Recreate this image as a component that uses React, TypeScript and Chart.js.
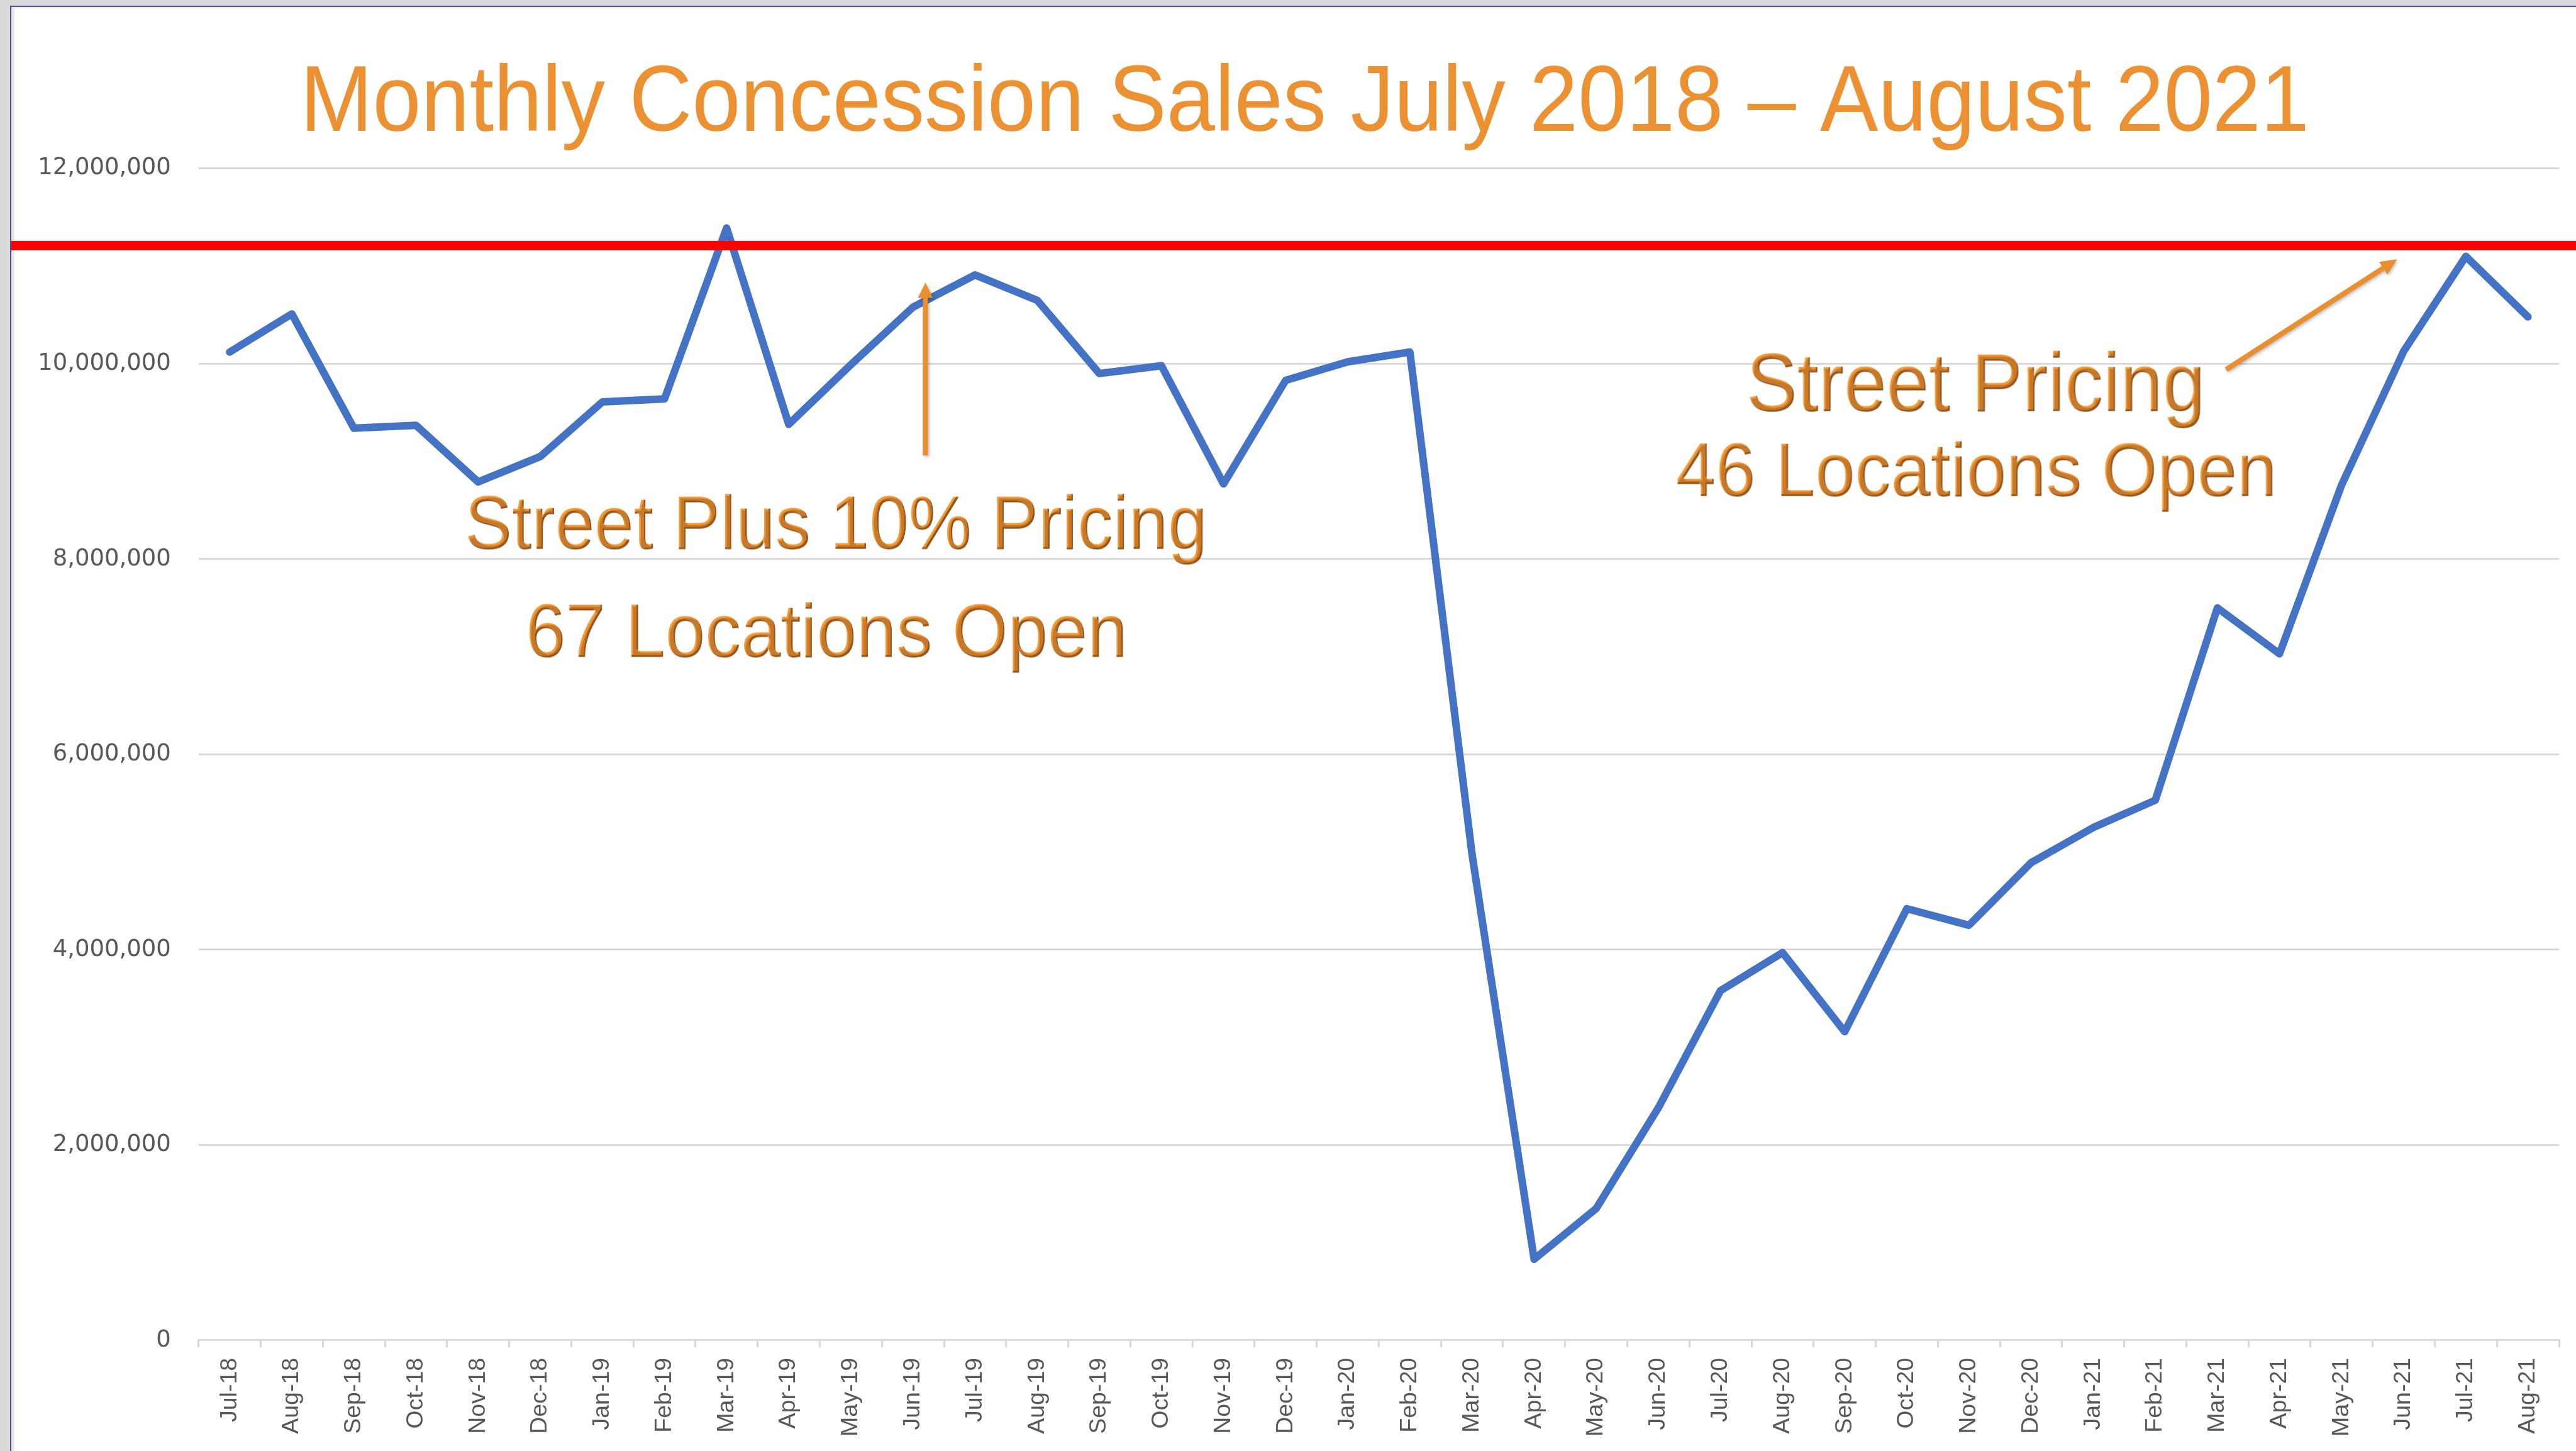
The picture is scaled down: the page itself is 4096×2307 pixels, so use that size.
import React, { useEffect, useRef } from "react";
import { Chart, registerables } from "chart.js";

Chart.register(...registerables);

const S = 4096 / 4098;
const W = 4096;
const H = 2307;

// ---- data ----
const months = [
  "Jul-18", "Aug-18", "Sep-18", "Oct-18", "Nov-18", "Dec-18",
  "Jan-19", "Feb-19", "Mar-19", "Apr-19", "May-19", "Jun-19",
  "Jul-19", "Aug-19", "Sep-19", "Oct-19", "Nov-19", "Dec-19",
  "Jan-20", "Feb-20", "Mar-20", "Apr-20", "May-20", "Jun-20",
  "Jul-20", "Aug-20", "Sep-20", "Oct-20", "Nov-20", "Dec-20",
  "Jan-21", "Feb-21", "Mar-21", "Apr-21", "May-21", "Jun-21",
  "Jul-21", "Aug-21",
];

const sales = [
  10120000, 10510000, 9340000, 9370000, 8790000, 9050000,
  9610000, 9640000, 11390000, 9380000, 9990000, 10580000,
  10910000, 10650000, 9900000, 9980000, 8770000, 9830000,
  10020000, 10120000, 4980000, 830000, 1350000, 2380000,
  3580000, 3970000, 3160000, 4420000, 4250000, 4890000,
  5250000, 5530000, 7500000, 7030000, 8760000, 10130000,
  11100000, 10480000,
];

const yMin = 0;
const yMax = 12000000;
const yStep = 2000000;
const referenceLevel = 11210000;

const titleText = "Monthly Concession Sales July 2018 \u2013 August 2021";
const leftNote = ["Street Plus 10% Pricing", "67 Locations Open"];
const rightNote = ["Street Pricing", "46 Locations Open"];

const FONT = '"Liberation Sans", Arial, Helvetica, sans-serif';

function plainText(
  ctx: CanvasRenderingContext2D,
  text: string,
  cx: number,
  baseline: number,
  size: number,
  width: number,
  color: string
) {
  ctx.save();
  ctx.font = `${size}px ${FONT}`;
  const m = ctx.measureText(text).width;
  const k = width / m;
  ctx.translate(cx, baseline);
  ctx.scale(k, 1);
  ctx.textAlign = "center";
  ctx.textBaseline = "alphabetic";
  ctx.fillStyle = color;
  ctx.fillText(text, 0, 0);
  ctx.restore();
}

function bevelText(
  ctx: CanvasRenderingContext2D,
  text: string,
  cx: number,
  baseline: number,
  size: number,
  width: number
) {
  const light = "#F39A36";
  const main = "#C77829";
  const dark = "#93561C";
  const d = 2.6 * S;
  const font = `${size}px ${FONT}`;
  ctx.save();
  ctx.font = font;
  const m = ctx.measureText(text);
  ctx.restore();
  const k = width / m.width;
  const asc = m.actualBoundingBoxAscent || size * 0.8;
  const desc = m.actualBoundingBoxDescent || size * 0.25;
  const pad = 10;
  const w = Math.ceil(width + 2 * pad);
  const h = Math.ceil(asc + desc + 2 * pad);
  const mk = () => {
    const cv = document.createElement("canvas");
    cv.width = w;
    cv.height = h;
    return cv;
  };
  const draw = (g: CanvasRenderingContext2D, dx: number, dy: number, color: string) => {
    g.save();
    g.translate(w / 2 + dx, pad + asc + dy);
    g.scale(k, 1);
    g.font = font;
    g.textAlign = "center";
    g.textBaseline = "alphabetic";
    g.fillStyle = color;
    g.fillText(text, 0, 0);
    g.restore();
  };
  const a = mk();
  const ga = a.getContext("2d") as CanvasRenderingContext2D;
  draw(ga, 0, 0, dark);
  ga.globalCompositeOperation = "source-atop";
  draw(ga, -d, -d, light);
  const b = mk();
  const gb = b.getContext("2d") as CanvasRenderingContext2D;
  draw(gb, d, d, main);
  gb.globalCompositeOperation = "destination-in";
  draw(gb, -d, -d, main);
  ga.drawImage(b, 0, 0);
  ctx.drawImage(a, cx - w / 2, baseline - pad - asc);
}

function arrow(
  ctx: CanvasRenderingContext2D,
  x1: number,
  y1: number,
  x2: number,
  y2: number,
  shaft: number,
  headLen: number,
  headW: number,
  color: string
) {
  const a = Math.atan2(y2 - y1, x2 - x1);
  const bx = x2 - headLen * Math.cos(a);
  const by = y2 - headLen * Math.sin(a);
  ctx.save();
  ctx.shadowColor = "rgba(0,0,0,0.28)";
  ctx.shadowBlur = 5;
  ctx.shadowOffsetX = 2;
  ctx.shadowOffsetY = 2;
  ctx.fillStyle = color;
  ctx.beginPath();
  const nx = Math.sin(a);
  const ny = -Math.cos(a);
  const hs = shaft / 2;
  const hh = headW / 2;
  ctx.moveTo(x1 + nx * hs, y1 + ny * hs);
  ctx.lineTo(bx + nx * hs, by + ny * hs);
  ctx.lineTo(bx + nx * hh, by + ny * hh);
  ctx.lineTo(x2, y2);
  ctx.lineTo(bx - nx * hh, by - ny * hh);
  ctx.lineTo(bx - nx * hs, by - ny * hs);
  ctx.lineTo(x1 - nx * hs, y1 - ny * hs);
  ctx.closePath();
  ctx.fill();
  ctx.restore();
}

export default function App() {
  const ref = useRef<HTMLCanvasElement>(null);

  useEffect(() => {
    document.body.style.margin = "0";
    document.body.style.overflow = "hidden";
    const canvas = ref.current;
    if (!canvas) return;

    const chrome = {
      id: "chrome",
      beforeDraw(chart: any) {
        const c = chart.ctx as CanvasRenderingContext2D;
        c.save();
        c.fillStyle = "#FFFFFF";
        c.fillRect(0, 0, W, H);
        c.fillStyle = "#DADADA";
        c.fillRect(0, 0, 16 * S, H);
        c.fillRect(0, 0, W, 9 * S);
        c.fillStyle = "#5A4B8C";
        c.fillRect(16 * S, 9 * S, 2.2 * S, H);
        c.fillRect(16 * S, 9 * S, W, 2.2 * S);
        c.fillStyle = "#E6E6E6";
        c.fillRect(18.2 * S, 11.2 * S, 4.5 * S, H);
        c.restore();
      },
    };

    const overlay = {
      id: "overlay",
      afterDatasetsDraw(chart: any) {
        const c = chart.ctx as CanvasRenderingContext2D;
        const ys = chart.scales.y;
        const y = ys.getPixelForValue(referenceLevel);
        c.save();
        c.fillStyle = "#FF0000";
        c.fillRect(18 * S, y - 7.5 * S, W, 15 * S);
        c.restore();
      },
      afterDraw(chart: any) {
        const c = chart.ctx as CanvasRenderingContext2D;
        const xs = chart.scales.x;
        const ys = chart.scales.y;
        const px = (i: number) => xs.getPixelForValue(i);
        const py = (v: number) => ys.getPixelForValue(v);

        // title
        plainText(c, titleText, 2075.5 * S, 208 * S, 149 * S, 3196 * S, "#EC9132");

        // arrows
        const orange = "#E98F2E";
        arrow(c, px(11.2), py(9060000), px(11.2), py(10830000), 8 * S, 24 * S, 24 * S, orange);
        arrow(c, px(32.14), py(9940000), px(34.89), py(11070000), 8 * S, 26 * S, 24 * S, orange);

        // notes
        bevelText(c, leftNote[0], px(9.763), py(8105000), 120 * S, 1181 * S);
        bevelText(c, leftNote[1], px(9.61), py(6998000), 120 * S, 957 * S);
        bevelText(c, rightNote[0], px(28.11), py(9515000), 131 * S, 730 * S);
        bevelText(c, rightNote[1], px(28.12), py(8646000), 120 * S, 956 * S);
      },
    };

    const chart = new Chart(canvas, {
      type: "line",
      data: {
        labels: months,
        datasets: [
          {
            data: sales,
            borderColor: "#4472C4",
            backgroundColor: "#4472C4",
            borderWidth: 12 * S,
            pointRadius: 0,
            pointHoverRadius: 0,
            tension: 0,
            fill: false,
            borderCapStyle: "round",
            borderJoinStyle: "round",
          },
        ],
      },
      options: {
        responsive: false,
        animation: false,
        devicePixelRatio: 1,
        events: [],
        layout: {
          padding: { top: 268 * S, right: W - 4071 * S, left: 0, bottom: 0 },
        },
        plugins: {
          legend: { display: false },
          title: { display: false },
          tooltip: { enabled: false },
        },
        scales: {
          x: {
            type: "category",
            offset: true,
            grid: {
              display: true,
              offset: true,
              drawOnChartArea: false,
              drawTicks: true,
              tickLength: 11 * S,
              color: "#D9D9D9",
              lineWidth: 3 * S,
            },
            border: { display: true, color: "#D9D9D9", width: 3 * S },
            ticks: {
              autoSkip: false,
              minRotation: 90,
              maxRotation: 90,
              padding: 17 * S,
              color: "#595959",
              font: { family: FONT, size: 37.5 * S },
            },
            afterFit: (s: any) => {
              s.height = H - 2132 * S;
            },
          },
          y: {
            min: yMin,
            max: yMax,
            ticks: {
              stepSize: yStep,
              padding: 44 * S,
              color: "#595959",
              font: { family: '"DejaVu Sans", sans-serif', size: 37 * S },
              callback: (v: any) => Number(v).toLocaleString("en-US"),
            },
            grid: { color: "#D9D9D9", lineWidth: 3 * S, drawTicks: false },
            border: { display: false },
            afterFit: (s: any) => {
              s.width = 316 * S;
            },
          },
        },
      },
      plugins: [chrome, overlay],
    } as any);

    return () => chart.destroy();
  }, []);

  return (
    <canvas
      ref={ref}
      width={W}
      height={H}
      style={{ display: "block", width: W + "px", height: H + "px" }}
    />
  );
}
